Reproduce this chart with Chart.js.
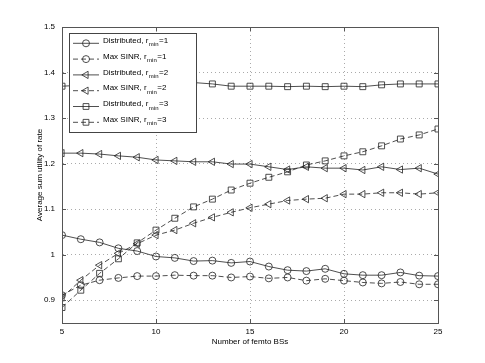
<!DOCTYPE html>
<html>
<head>
<meta charset="utf-8">
<script src="https://cdn.jsdelivr.net/npm/chart.js"></script>
<style>
  html, body { margin: 0; padding: 0; background: #fff; }
</style>
</head>
<body>
<canvas id="myChart" width="485" height="363"></canvas>
<script>
// number of femto BSs
var xValues = [5, 6, 7, 8, 9, 10, 11, 12, 13, 14, 15, 16, 17, 18, 19, 20, 21, 22, 23, 24, 25];

var distR1 = [1.043, 1.034, 1.027, 1.014, 1.008, 0.996, 0.993, 0.986, 0.987, 0.982, 0.985, 0.974, 0.966, 0.964, 0.969, 0.958, 0.955, 0.955, 0.961, 0.954, 0.953];
var maxR1  = [0.911, 0.933, 0.944, 0.949, 0.953, 0.953, 0.955, 0.954, 0.954, 0.950, 0.952, 0.948, 0.950, 0.943, 0.947, 0.943, 0.939, 0.937, 0.940, 0.935, 0.935];
var distR2 = [1.223, 1.223, 1.221, 1.217, 1.214, 1.208, 1.206, 1.204, 1.204, 1.199, 1.199, 1.193, 1.187, 1.193, 1.190, 1.190, 1.186, 1.193, 1.187, 1.190, 1.177];
var maxR2  = [0.906, 0.944, 0.977, 1.003, 1.024, 1.043, 1.054, 1.069, 1.082, 1.093, 1.103, 1.111, 1.119, 1.122, 1.124, 1.133, 1.133, 1.136, 1.136, 1.133, 1.136];
var distR3 = [1.370, 1.372, 1.374, 1.375, 1.376, 1.377, 1.378, 1.378, 1.375, 1.370, 1.370, 1.370, 1.369, 1.370, 1.369, 1.370, 1.369, 1.373, 1.375, 1.375, 1.375];
var maxR3  = [0.884, 0.922, 0.959, 0.991, 1.026, 1.054, 1.080, 1.105, 1.122, 1.142, 1.157, 1.170, 1.182, 1.197, 1.206, 1.217, 1.226, 1.239, 1.254, 1.263, 1.276];

var seriesNames = ["Distributed", "Max SINR", "Distributed", "Max SINR", "Distributed", "Max SINR"];
var rminValues = [1, 1, 2, 2, 3, 3];
var seriesData = [distR1, maxR1, distR2, maxR2, distR3, maxR3];
var markers = ["circle", "circle", "triangle", "triangle", "rect", "rect"];

var yTicks = [0.9, 1, 1.1, 1.2, 1.3, 1.4, 1.5];
var xTicks = [5, 10, 15, 20, 25];

var lineCol = "#222";
var textFont = "Liberation Sans, Arial, Helvetica, sans-serif";

function drawMarker(ctx, style, x, y) {
  ctx.beginPath();
  if (style === "circle") {
    ctx.arc(x, y, 3.5, 0, Math.PI * 2);
  } else if (style === "triangle") {
    var r = 4.2;
    ctx.moveTo(x - r, y);
    ctx.lineTo(x + r * 0.5, y - r * 0.866);
    ctx.lineTo(x + r * 0.5, y + r * 0.866);
    ctx.closePath();
  } else {
    ctx.rect(x - 2.9, y - 2.9, 5.8, 5.8);
  }
  ctx.stroke();
}

// matlab style box with inward ticks
var frame = {
  id: "frame",
  afterDraw: function(chart) {
    var ctx = chart.ctx, a = chart.chartArea;
    var xs = chart.scales.x, ys = chart.scales.y;
    ctx.save();
    ctx.strokeStyle = "#555";
    ctx.lineWidth = 1;
    ctx.strokeRect(Math.round(a.left) + 0.5, Math.round(a.top) + 0.5, Math.round(a.right - a.left), Math.round(a.bottom - a.top));
    ctx.beginPath();
    xTicks.forEach(function(v) {
      var px = Math.round(xs.getPixelForValue(v)) + 0.5;
      ctx.moveTo(px, a.bottom); ctx.lineTo(px, a.bottom - 4);
      ctx.moveTo(px, a.top); ctx.lineTo(px, a.top + 4);
    });
    yTicks.forEach(function(v) {
      var py = Math.round(ys.getPixelForValue(v)) + 0.5;
      ctx.moveTo(a.left, py); ctx.lineTo(a.left + 4, py);
      ctx.moveTo(a.right, py); ctx.lineTo(a.right - 4, py);
    });
    ctx.stroke();
    ctx.restore();
  }
};

// legend drawn over the plot, with subscripted r_min
var legendBox = {
  id: "legendBox",
  afterDraw: function(chart) {
    var ctx = chart.ctx, a = chart.chartArea;
    var x0 = a.left + 7, y0 = a.top + 6, w = 127, h = 99;
    ctx.save();
    ctx.fillStyle = "#fff";
    ctx.fillRect(x0, y0, w, h);
    ctx.strokeStyle = "#444";
    ctx.lineWidth = 1;
    ctx.strokeRect(Math.round(x0) + 0.5, Math.round(y0) + 0.5, w, h);
    chart.data.datasets.forEach(function(ds, i) {
      var y = y0 + 10.3 + i * 15.8;
      ctx.strokeStyle = lineCol;
      ctx.lineWidth = 0.8;
      ctx.setLineDash(ds.borderDash || []);
      ctx.beginPath();
      ctx.moveTo(x0 + 4, y); ctx.lineTo(x0 + 30, y);
      ctx.stroke();
      ctx.setLineDash([]);
      drawMarker(ctx, markers[i], x0 + 17, y);
      ctx.fillStyle = "#000";
      ctx.textBaseline = "middle";
      ctx.textAlign = "left";
      ctx.font = "8px " + textFont;
      var t1 = seriesNames[i] + ", r";
      var tx = x0 + 34;
      ctx.fillText(t1, tx, y - 2.5);
      tx += ctx.measureText(t1).width + 0.5;
      ctx.font = "6px " + textFont;
      ctx.fillText("min", tx, y + 1.5);
      tx += ctx.measureText("min").width + 0.5;
      ctx.font = "8px " + textFont;
      ctx.fillText("=" + rminValues[i], tx, y - 2.5);
    });
    ctx.restore();
  }
};

var datasets = seriesData.map(function(arr, i) {
  return {
    label: seriesNames[i] + ", r_min=" + rminValues[i],
    data: xValues.map(function(x, k) { return {x: x, y: arr[k]}; }),
    borderColor: lineCol,
    borderWidth: 0.8,
    borderDash: i % 2 === 1 ? [5, 3] : [],
    pointStyle: markers[i],
    pointRadius: markers[i] === "circle" ? 3.5 : 4.2,
    pointRotation: markers[i] === "triangle" ? -90 : 0,
    pointBorderColor: lineCol,
    pointBorderWidth: 0.8,
    pointBackgroundColor: "rgba(0,0,0,0)",
    fill: false,
    tension: 0
  };
});

new Chart("myChart", {
  type: "line",
  data: { datasets: datasets },
  options: {
    responsive: false,
    animation: false,
    layout: { padding: { top: 27, right: 47, left: 0, bottom: 0 } },
    plugins: {
      legend: { display: false },
      tooltip: { enabled: false }
    },
    scales: {
      x: {
        type: "linear",
        min: 5, max: 25,
        afterFit: function(s) { s.height = 40; },
        ticks: { stepSize: 5, padding: 4, color: "#000", font: { family: textFont, size: 8 } },
        grid: { color: "#aaa", drawTicks: false },
        border: { color: "#555", dash: [1, 3] },
        title: { display: true, text: "Number of femto BSs", color: "#000", font: { family: textFont, size: 8 }, padding: { top: 0, bottom: 16 } }
      },
      y: {
        min: 0.85, max: 1.5,
        afterFit: function(s) { s.width = 62; },
        ticks: {
          stepSize: 0.1, padding: 7, color: "#000", font: { family: textFont, size: 8 },
          callback: function(v) { return Math.abs(v - 0.85) < 1e-6 ? "" : String(+v.toFixed(1)); }
        },
        grid: { color: "#aaa", drawTicks: false },
        border: { color: "#555", dash: [1, 3] },
        title: { display: true, text: "Average sum utility of rate", color: "#000", font: { family: textFont, size: 8 }, padding: { top: 35, bottom: 0 } }
      }
    }
  },
  plugins: [frame, legendBox]
});
</script>
</body>
</html>
